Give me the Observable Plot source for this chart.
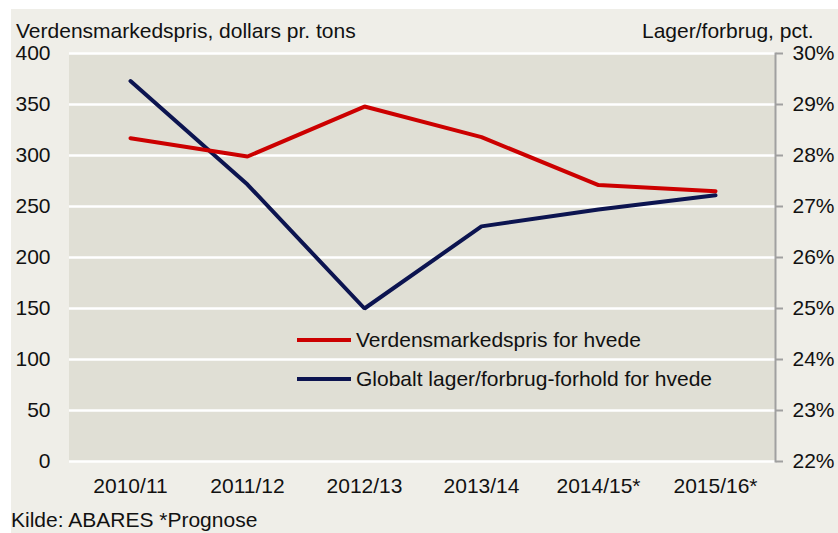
<!DOCTYPE html>
<html>
<head>
<meta charset="utf-8">
<script src="https://cdn.jsdelivr.net/npm/d3@7"></script>
<script src="https://cdn.jsdelivr.net/npm/@observablehq/plot@0.6"></script>
<style>
  html, body { margin: 0; padding: 0; background: #ffffff; }
  body { width: 838px; height: 533px; position: relative; overflow: hidden;
         font-family: "Liberation Sans", Arial, sans-serif; color: #111; }
  #panel { position: absolute; left: 11px; top: 9px; width: 827px; height: 524px; background: #efeee8; }
  #chart { position: absolute; left: 0; top: 0; }
  .lbl { position: absolute; font-size: 21px; line-height: 21px; white-space: nowrap; }
  .leg { position: absolute; font-size: 21px; line-height: 21px; white-space: nowrap; display: flex; align-items: center; }
  .leg svg { margin-right: 5px; }
</style>
</head>
<body>
<div id="panel">
  <div id="chart"></div>
  <div class="lbl" style="left:5px; top:11px;">Verdensmarkedspris, dollars pr. tons</div>
  <div class="lbl" style="left:631px; top:11px;">Lager/forbrug, pct.</div>
  <div class="lbl" style="left:0px; top:500px;">Kilde: ABARES *Prognose</div>
  <div id="legend"></div>
</div>
<script>
const seasons = ["2010/11", "2011/12", "2012/13", "2013/14", "2014/15*", "2015/16*"];
const price = [317, 299, 348, 318, 271, 265];           // dollars pr. tons (left axis)
const ratio = [29.46, 27.43, 25.0, 26.61, 26.94, 27.22]; // pct. (right axis)
const leftTicks = [0, 50, 100, 150, 200, 250, 300, 350, 400];
const rightTicks = [22, 23, 24, 25, 26, 27, 28, 29, 30];
const seriesNames = ["Verdensmarkedspris for hvede", "Globalt lager/forbrug-forhold for hvede"];
const seriesColors = ["#cc0000", "#0c1450"];

// map right-axis percent onto left scale
const toLeft = p => (p - 22) * 50;

const priceData = seasons.map((s, i) => ({season: s, v: price[i]}));
const ratioData = seasons.map((s, i) => ({season: s, v: toLeft(ratio[i])}));

const plot = Plot.plot({
  width: 827,
  height: 524,
  marginLeft: 58,
  marginRight: 63,
  marginTop: 44,
  marginBottom: 72,
  style: {background: "#efeee8", fontFamily: "'Liberation Sans', Arial, sans-serif", fontSize: "21px", color: "#111"},
  x: {type: "point", domain: seasons, padding: 0.5},
  y: {domain: [0, 400]},
  marks: [
    Plot.frame({fill: "#e0dfd5", stroke: "#e0dfd5", strokeWidth: 1}),
    Plot.gridY(leftTicks, {stroke: "#ffffff", strokeOpacity: 1, strokeWidth: 2.5}),
    Plot.frame({anchor: "right", stroke: "#a0a0a0", strokeWidth: 2}),
    Plot.axisY(leftTicks, {anchor: "left", tickSize: 0, tickPadding: 19, label: null, fontSize: 21}),
    Plot.axisY(rightTicks.map(toLeft), {anchor: "right", tickSize: 7, tickPadding: 10, stroke: "#a0a0a0", strokeWidth: 2,
      tickFormat: d => (22 + d / 50) + "%", label: null, fontSize: 21}),
    Plot.axisX(seasons, {anchor: "bottom", tickSize: 0, tickPadding: 17, label: null, fontSize: 21}),
    Plot.line(ratioData, {x: "season", y: "v", stroke: seriesColors[1], strokeWidth: 4, strokeLinejoin: "miter"}),
    Plot.line(priceData, {x: "season", y: "v", stroke: seriesColors[0], strokeWidth: 4, strokeLinejoin: "miter"})
  ]
});
document.getElementById("chart").appendChild(plot);

// legend (inside plot area)
const legend = document.getElementById("legend");
const legTops = [320, 359];
seriesNames.forEach((name, i) => {
  const row = document.createElement("div");
  row.className = "leg";
  row.style.left = "286px";
  row.style.top = legTops[i] + "px";
  row.innerHTML = `<svg width="54" height="8"><line x1="0" x2="54" y1="4" y2="4" stroke="${seriesColors[i]}" stroke-width="4" stroke-linecap="round"/></svg><span>${name}</span>`;
  legend.appendChild(row);
});
</script>
</body>
</html>
